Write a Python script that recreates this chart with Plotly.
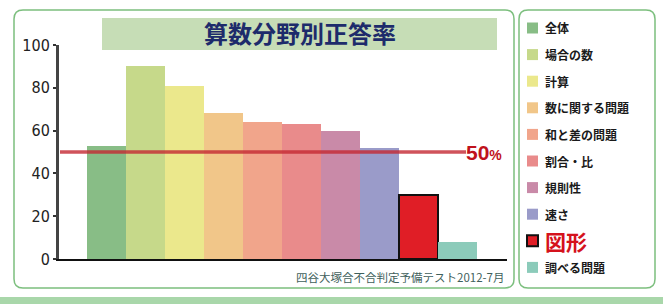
import plotly.graph_objects as go

categories = ["全体", "場合の数", "計算", "数に関する問題", "和と差の問題",
              "割合・比", "規則性", "速さ", "図形", "調べる問題"]
values = [53, 90, 81, 68, 64, 63, 60, 52, 30, 8]
colors = ["#88bd86", "#c6d98a", "#ebe88c", "#f1c689", "#f1a58b",
          "#e98b8b", "#c98aa8", "#9a9bc9", "#e01e26", "#8ccbba"]
y_ticks = [0, 20, 40, 60, 80, 100]
reference_value = 50
reference_label = "50<span style='font-size:14px'>%</span>"
title_text = "算数分野別正答率"
source_text = "四谷大塚合不合判定予備テスト2012-7月"

W, H = 663, 304
JP = "Noto Sans CJK JP, sans-serif"


def px(x):
    return x / W


def py(y):
    return 1 - y / H


def rounded_rect(x0, y0, x1, y1, r):
    X0, X1 = px(x0), px(x1)
    Y0, Y1 = py(y0), py(y1)
    rx, ry = r / W, r / H
    return (f"M{X0 + rx},{Y0} L{X1 - rx},{Y0} Q{X1},{Y0} {X1},{Y0 - ry} "
            f"L{X1},{Y1 + ry} Q{X1},{Y1} {X1 - rx},{Y1} "
            f"L{X0 + rx},{Y1} Q{X0},{Y1} {X0},{Y1 + ry} "
            f"L{X0},{Y0 - ry} Q{X0},{Y0} {X0 + rx},{Y0} Z")


fig = go.Figure()
fig.add_trace(go.Bar(
    x=list(range(len(categories))),
    y=values,
    marker=dict(
        color=colors,
        line=dict(color=["rgba(0,0,0,0)"] * 8 + ["#111111", "rgba(0,0,0,0)"],
                  width=[0] * 8 + [2, 0]),
    ),
    width=1,
    hovertext=categories,
    showlegend=False,
))

shapes = []
annotations = []

# outer boxes
shapes.append(dict(type="path", xref="paper", yref="paper",
                   path=rounded_rect(14, 10, 514, 288, 9),
                   line=dict(color="#7cbf7e", width=1.5), layer="below"))
shapes.append(dict(type="path", xref="paper", yref="paper",
                   path=rounded_rect(519, 10, 655, 288, 9),
                   line=dict(color="#7cbf7e", width=1.5), layer="below"))
# bottom band
shapes.append(dict(type="rect", xref="paper", yref="paper",
                   x0=0, x1=1, y0=0, y1=py(297),
                   fillcolor="#a9d7aa", line=dict(width=0), layer="below"))
# title box
shapes.append(dict(type="rect", xref="paper", yref="paper",
                   x0=px(102), x1=px(497), y0=py(50), y1=py(18),
                   fillcolor="#c6ddb6", line=dict(width=0), layer="below"))
annotations.append(dict(text=f"<b>{title_text}</b>", xref="paper", yref="paper",
                        x=px(300), y=py(33), xanchor="center", yanchor="middle",
                        showarrow=False,
                        font=dict(family=JP, size=24, color="#1d2b6b")))

# reference line
shapes.append(dict(type="line", xref="paper", yref="y",
                   x0=px(60), x1=px(466), y0=reference_value, y1=reference_value,
                   line=dict(color="rgba(196,40,50,0.8)", width=3.5), layer="above"))
annotations.append(dict(text=f"<b>{reference_label}</b>", xref="paper", yref="y",
                        x=px(464), y=reference_value, xanchor="left", yanchor="middle",
                        showarrow=False,
                        font=dict(family="Liberation Sans, Arial, sans-serif",
                                  size=21, color="#c0121c")))

# source
annotations.append(dict(text=source_text, xref="paper", yref="paper",
                        x=px(506), y=py(277), xanchor="right", yanchor="middle",
                        showarrow=False,
                        font=dict(family=JP, size=11.5, color="#3f5f5c")))

# legend
for i, (cat, col) in enumerate(zip(categories, colors)):
    yc = 28 + 26.6 * i
    special = (cat == "図形")
    shapes.append(dict(type="rect", xref="paper", yref="paper",
                       x0=px(527), x1=px(538), y0=py(yc + 5.5), y1=py(yc - 5.5),
                       fillcolor=col,
                       line=dict(color="#111111" if special else col,
                                 width=2 if special else 0)))
    annotations.append(dict(text=f"<b>{cat}</b>", xref="paper", yref="paper",
                            x=px(543), y=py(yc), xanchor="left", yanchor="middle",
                            showarrow=False,
                            font=dict(family=JP, size=21 if special else 12,
                                      color="#d5121c" if special else "#1a1a1a")))

fig.update_layout(
    template="none",
    width=W, height=H, autosize=False,
    margin=dict(l=0, r=0, t=0, b=0, pad=0),
    paper_bgcolor="white", plot_bgcolor="rgba(0,0,0,0)",
    bargap=0,
    shapes=shapes,
    annotations=annotations,
    xaxis=dict(domain=[px(59), px(507)], range=[-1.22, 10.27], automargin=False,
               showticklabels=False, ticks="", showgrid=False, zeroline=False,
               showline=True, linecolor="#111111", linewidth=2),
    yaxis=dict(domain=[py(259), py(45)], range=[0, 100], automargin=False,
               tickvals=y_ticks, ticks="outside", ticklen=3, tickwidth=2,
               tickcolor="#333333", showgrid=False, zeroline=False,
               showline=True, linecolor="#444444", linewidth=3,
               tickfont=dict(family="Liberation Sans Narrow, DejaVu Sans Condensed, Arial, sans-serif",
                             size=16, color="#222222")),
    showlegend=False,
)

fig.write_html(
    "out.html",
    config={"responsive": False, "displayModeBar": False},
    post_script="document.body.style.margin='0';document.body.style.overflow='hidden';",
)
